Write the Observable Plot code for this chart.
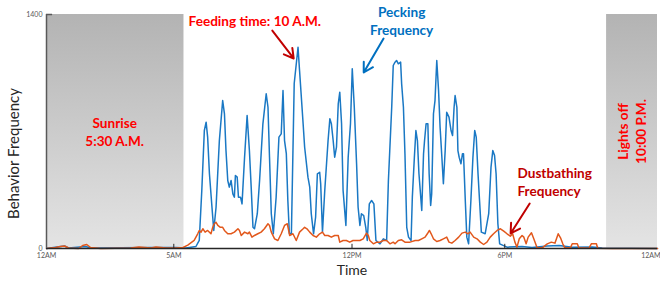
<!DOCTYPE html>
<html><head><meta charset="utf-8">
<script src="https://cdn.jsdelivr.net/npm/d3@7"></script>
<script src="https://cdn.jsdelivr.net/npm/@observablehq/plot@0.6"></script>
<style>body{margin:0;background:#fff;}</style>
</head><body><div id="chart"></div>
<script>
// ---- data (hours since midnight, behavior frequency) ----
const peckHours = [0,0.55,0.71,0.87,1.54,1.73,4.10,5.08,5.48,5.87,
6.00,6.10,6.20,6.27,6.33,6.40,6.53,6.57,6.66,6.79,
6.92,6.99,7.05,7.12,7.18,7.25,7.32,7.38,7.42,7.49,
7.54,7.62,7.68,7.78,7.88,7.97,8.04,8.11,8.17,8.28,
8.37,8.50,8.63,8.70,8.76,8.83,8.91,9.02,9.13,9.22,
9.29,9.35,9.42,9.48,9.54,9.62,9.73,9.88,9.94,10.08,
10.14,10.27,10.34,10.40,10.49,10.57,10.64,10.73,10.77,10.84,
10.93,11.06,11.13,11.19,11.26,11.32,11.39,11.46,11.52,11.59,
11.65,11.76,11.85,11.94,12.01,12.09,12.18,12.24,12.31,12.37,
12.46,12.54,12.60,12.68,12.77,12.86,12.94,13.10,13.23,13.36,
13.43,13.56,13.62,13.69,13.75,13.82,13.91,13.95,14.02,14.08,
14.15,14.22,14.32,14.37,14.45,14.51,14.57,14.63,14.74,14.81,
14.85,14.91,14.98,15.03,15.09,15.13,15.20,15.26,15.33,15.40,
15.46,15.53,15.59,15.66,15.72,15.81,15.89,15.95,16.01,16.05,
16.12,16.16,16.21,16.28,16.34,16.38,16.45,16.51,16.58,16.67,
16.75,16.82,16.88,16.95,17.01,17.08,17.23,17.37,17.46,17.53,
17.60,17.66,17.73,17.80,18.09,18.68,19.07,19.67,20.14,20.65,
21.44,21.83,24];
const peckValues = [0,12,15,3,12,3,6,6,3,12,
48,347,706,756,666,447,187,108,247,646,
885,806,586,407,367,407,327,307,437,427,
307,307,267,546,796,586,367,127,118,208,
407,746,926,845,546,208,88,307,666,686,
945,646,568,287,90,90,987,1204,1065,746,
606,427,367,208,88,187,447,456,387,98,
347,646,776,746,646,546,606,866,935,746,
347,138,546,746,1075,845,507,247,138,208,
197,127,48,267,287,267,48,28,58,48,
407,845,1095,1115,1125,1105,1115,985,845,567,
127,68,48,307,546,706,646,447,227,567,
646,746,746,447,257,327,806,885,1125,945,
726,546,387,586,815,786,706,676,845,915,
845,586,546,507,567,567,287,68,28,287,
546,706,666,447,287,98,88,208,486,586,
556,447,148,28,8,12,6,15,18,8,
9,3,0];

const dustHours = [0,0.35,0.55,0.71,0.87,1.26,1.42,1.58,1.73,2.13,
3.31,3.63,4.10,4.30,4.69,5.08,5.36,5.55,5.80,5.94,
6.00,6.07,6.14,6.23,6.33,6.46,6.53,6.59,6.66,6.73,
6.83,6.92,6.99,7.12,7.25,7.38,7.52,7.58,7.65,7.78,
7.91,7.97,8.07,8.17,8.30,8.43,8.56,8.70,8.76,8.83,
8.96,9.09,9.22,9.35,9.46,9.55,9.68,9.81,9.94,10.08,
10.14,10.23,10.34,10.47,10.60,10.73,10.84,10.93,11.06,11.19,
11.32,11.46,11.52,11.65,11.78,11.91,12.04,12.18,12.31,12.44,
12.57,12.64,12.70,12.84,12.97,13.10,13.23,13.36,13.49,13.62,
13.69,13.82,13.95,14.08,14.28,14.48,14.61,14.74,14.87,14.96,
15.04,15.11,15.20,15.33,15.46,15.59,15.72,15.81,15.92,16.05,
16.19,16.32,16.45,16.55,16.64,16.78,16.91,17.04,17.17,17.30,
17.43,17.56,17.70,17.83,17.96,18.09,18.22,18.31,18.40,18.48,
18.57,18.68,18.75,18.84,18.92,19.05,19.14,19.27,19.47,19.67,
19.83,19.97,20.10,20.19,20.28,20.36,20.58,20.65,20.85,20.91,
21.31,21.40,21.60,21.65,22.23,24];
const dustValues = [0,6,12,15,3,0,18,24,6,0,
3,9,3,9,3,3,6,20,48,88,
108,98,118,98,108,88,127,148,157,138,
127,127,108,88,88,98,118,108,78,98,
88,98,68,78,88,98,118,148,138,98,
58,48,88,138,148,78,88,48,98,118,
127,118,98,78,68,88,98,78,78,68,
78,78,38,48,48,38,48,48,48,58,
92,78,48,28,38,38,48,48,28,38,
28,48,52,38,38,48,48,58,68,88,
108,88,58,42,48,58,68,38,32,48,
68,92,98,88,98,68,58,38,24,38,
68,88,108,118,104,88,74,88,38,8,
58,78,68,28,68,94,58,4,4,28,
38,32,88,64,28,4,4,28,28,4,
2,28,28,2,0,0];

const xTicks = [0, 5, 12, 18, 24];
const xTickLabels = ["12AM", "5AM", "12PM", "6PM", "12AM"];
const yTicks = [0, 1400];
const shadeStart = [0, 22];
const shadeEnd = [5.4, 24];
const annotationTexts = ["Feeding time: 10 A.M.", "Pecking\nFrequency", "Sunrise\n5:30 A.M.", "Lights off\n10:00 P.M.", "Dustbathing\nFrequency"];

const pecking = peckHours.map((h, i) => ({h, v: peckValues[i]}));
const dust = dustHours.map((h, i) => ({h, v: dustValues[i]}));
const shade = shadeStart.map((s, i) => ({s, e: shadeEnd[i]}));
const xLabels = xTicks.map((t, i) => ({t, label: xTickLabels[i]}));

const bold = {fontWeight: "bold", fontSize: 13.6, lineHeight: 1.34};

const chart = Plot.plot({
  width: 660, height: 282,
  marginLeft: 46, marginRight: 3, marginTop: 14, marginBottom: 34,
  style: {fontFamily: "Lato, sans-serif", background: "white", overflow: "visible"},
  x: {domain: [0, 24], axis: null},
  y: {domain: [0, 1400]},
  marks: [
    Plot.rect(shade, {x1: "s", x2: "e", y1: 0, y2: 1400, fill: "url(#shade)"}),
    Plot.line(pecking, {x: "h", y: "v", stroke: "#1a78c4", strokeWidth: 1.5}),
    Plot.line(dust, {x: "h", y: "v", stroke: "#e2581c", strokeWidth: 1.5}),
    Plot.ruleY([0], {stroke: "#262626", strokeWidth: 1.5}),
    Plot.ruleX([0], {stroke: "#595959", strokeWidth: 1.5}),
    Plot.ruleX(xTicks.slice(1, 4), {y1: 0, y2: 25, stroke: "#262626", strokeWidth: 1}),
    Plot.ruleY([1400], {x1: 0, x2: 0.24, stroke: "#595959", strokeWidth: 1.5}),
    Plot.text(xLabels.slice(0, 4), {x: "t", text: "label", frameAnchor: "bottom", dy: 9, fontSize: 7, fill: "#595959"}),
    Plot.text(xLabels.slice(4), {x: "t", text: "label", frameAnchor: "bottom", dy: 9, dx: 3, textAnchor: "end", fontSize: 7, fill: "#595959"}),
    Plot.axisY({ticks: yTicks, tickFormat: d => String(d), tickSize: 0, tickPadding: 4, fontSize: 7, color: "#595959", label: null}),
    Plot.text(["Time"], {frameAnchor: "bottom", dy: 26, fontSize: 14, fill: "#262626"}),
    Plot.text(["Behavior Frequency"], {frameAnchor: "left", textAnchor: "middle", dx: -32, dy: 22, rotate: -90, fontSize: 15, fill: "#262626"}),
    Plot.text([annotationTexts[0]], {x: 5.58, y: 1364, textAnchor: "start", fill: "#ff0000", ...bold}),
    Plot.text([annotationTexts[1]], {x: 13.95, y: 1368, fill: "#0070c0", ...bold}),
    Plot.text([annotationTexts[2]], {x: 2.68, y: 700, fill: "#ff0000", ...bold}),
    Plot.text([annotationTexts[3]], {x: 22.95, y: 700, rotate: -90, fill: "#ff0000", ...bold}),
    Plot.text([annotationTexts[4]], {x: 18.5, y: 401, textAnchor: "start", fill: "#c00000", ...bold}),
    Plot.arrow([0], {x1: 8.87, y1: 1304, x2: 9.71, y2: 1137, stroke: "#c00000", strokeWidth: 2, headLength: 8}),
    Plot.arrow([0], {x1: 13.24, y1: 1256, x2: 12.46, y2: 1053, stroke: "#0070c0", strokeWidth: 2, headLength: 8}),
    Plot.arrow([0], {x1: 18.98, y1: 269, x2: 18.23, y2: 90, stroke: "#c00000", strokeWidth: 2, headLength: 8})
  ]
});

const svg = d3.select(chart);
const defs = svg.insert("defs", ":first-child");
const grad = defs.append("linearGradient").attr("id", "shade").attr("x1", 0).attr("y1", 0).attr("x2", 0).attr("y2", 1);
grad.append("stop").attr("offset", "0%").attr("stop-color", "#b3b3b3");
grad.append("stop").attr("offset", "100%").attr("stop-color", "#e4e4e4");
document.getElementById("chart").append(chart);
</script>
</body></html>
